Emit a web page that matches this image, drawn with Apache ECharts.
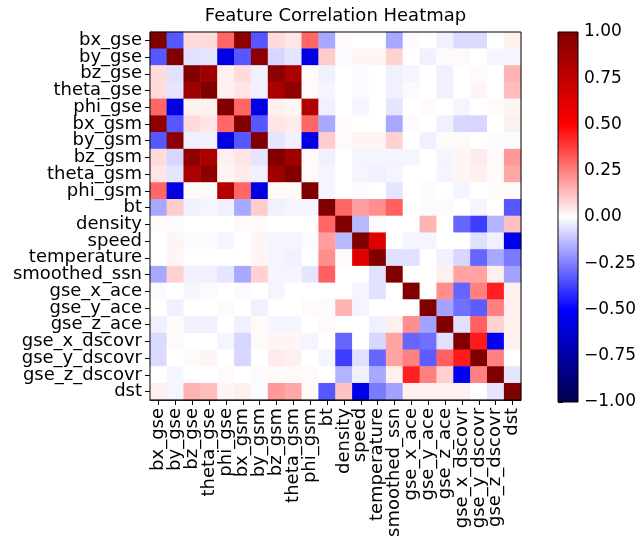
<!DOCTYPE html>
<html>
<head>
<meta charset="utf-8">
<script src="https://cdn.jsdelivr.net/npm/echarts@6/dist/echarts.min.js"></script>
<style>
html,body{margin:0;padding:0;background:#fff;}
#chart{width:643px;height:540px;}
</style>
</head>
<body>
<div id="chart"></div>
<script>
var features = ['bx_gse','by_gse','bz_gse','theta_gse','phi_gse','bx_gsm','by_gsm','bz_gsm','theta_gsm','phi_gsm','bt','density','speed','temperature','smoothed_ssn','gse_x_ace','gse_y_ace','gse_z_ace','gse_x_dscovr','gse_y_dscovr','gse_z_dscovr','dst'];

var corr = [
 [ 1.00,-0.33, 0.07, 0.07, 0.30, 0.95,-0.33, 0.07, 0.05, 0.30,-0.17, 0.01, 0.00, 0.00,-0.17,-0.01, 0.00,-0.03,-0.07,-0.07, 0.00, 0.03],
 [-0.33, 1.00,-0.06,-0.05,-0.58,-0.33, 0.95,-0.08,-0.05,-0.58, 0.10,-0.01, 0.02, 0.02, 0.09, 0.00,-0.03, 0.01, 0.01, 0.00,-0.02,-0.02],
 [ 0.07,-0.06, 1.00, 0.88, 0.03, 0.07,-0.03, 0.95, 0.83, 0.01,-0.03, 0.00,-0.01, 0.00,-0.03,-0.02, 0.00,-0.03, 0.00, 0.01, 0.00, 0.15],
 [ 0.07,-0.05, 0.88, 1.00, 0.03, 0.05,-0.03, 0.83, 0.95, 0.01,-0.02, 0.00,-0.01, 0.00,-0.03,-0.01, 0.00,-0.03, 0.00, 0.02, 0.00, 0.13],
 [ 0.30,-0.58, 0.03, 0.03, 1.00, 0.30,-0.58, 0.03, 0.02, 0.80,-0.03, 0.00,-0.02, 0.00,-0.05, 0.00, 0.01, 0.00,-0.02, 0.00, 0.01, 0.02],
 [ 0.95,-0.33, 0.07, 0.05, 0.30, 1.00,-0.33, 0.05, 0.04, 0.30,-0.17, 0.01, 0.00, 0.00,-0.17,-0.01, 0.00,-0.03,-0.08,-0.08, 0.00, 0.03],
 [-0.33, 0.95,-0.03,-0.03,-0.58,-0.33, 1.00,-0.05,-0.03,-0.58, 0.10, 0.01, 0.02, 0.02, 0.09, 0.00,-0.03, 0.01, 0.01, 0.00,-0.01,-0.01],
 [ 0.07,-0.08, 0.95, 0.83, 0.03, 0.05,-0.05, 1.00, 0.88, 0.01,-0.03, 0.00,-0.02,-0.02,-0.02,-0.02, 0.00,-0.02, 0.02, 0.04, 0.01, 0.20],
 [ 0.05,-0.05, 0.83, 0.95, 0.02, 0.04,-0.03, 0.88, 1.00, 0.01,-0.02, 0.00,-0.02,-0.03,-0.02, 0.00, 0.00,-0.02, 0.02, 0.03, 0.01, 0.17],
 [ 0.30,-0.58, 0.01, 0.01, 0.80, 0.30,-0.58, 0.01, 0.01, 1.00,-0.02, 0.00,-0.01, 0.00,-0.05, 0.00, 0.01, 0.00,-0.02, 0.00, 0.01, 0.01],
 [-0.17, 0.10,-0.03,-0.02,-0.03,-0.17, 0.10,-0.03,-0.02,-0.02, 1.00, 0.30, 0.19, 0.22, 0.31, 0.00,-0.01, 0.01, 0.00,-0.02, 0.00,-0.33],
 [ 0.01,-0.01, 0.00, 0.00, 0.00, 0.01, 0.01, 0.00, 0.00, 0.00, 0.30, 1.00,-0.14, 0.01, 0.00, 0.00, 0.15, 0.00,-0.30,-0.38,-0.15, 0.12],
 [ 0.00, 0.02,-0.01,-0.01,-0.02, 0.00, 0.02,-0.02,-0.02,-0.01, 0.19,-0.14, 1.00, 0.62, 0.00,-0.02,-0.02, 0.00, 0.00,-0.06,-0.03,-0.56],
 [ 0.00, 0.02, 0.00, 0.00, 0.00, 0.00, 0.02,-0.02,-0.03, 0.00, 0.22, 0.01, 0.62, 1.00,-0.06,-0.06, 0.00,-0.03,-0.08,-0.30,-0.17,-0.26],
 [-0.17, 0.09,-0.03,-0.03,-0.05,-0.17, 0.09,-0.02,-0.02,-0.05, 0.31, 0.00, 0.00,-0.06, 1.00, 0.00, 0.00, 0.03, 0.18, 0.18, 0.03,-0.18],
 [-0.01, 0.00,-0.02,-0.01, 0.00,-0.01, 0.00,-0.02, 0.00, 0.00, 0.00, 0.00,-0.02,-0.06, 0.00, 1.00, 0.00, 0.22,-0.30, 0.25, 0.44, 0.03],
 [ 0.00,-0.03, 0.00, 0.00, 0.01, 0.00,-0.03, 0.00, 0.00, 0.01,-0.01, 0.15,-0.02, 0.00, 0.00, 0.00, 1.00,-0.18,-0.28,-0.32, 0.25, 0.03],
 [-0.03, 0.01,-0.03,-0.03, 0.00,-0.03, 0.01,-0.02,-0.02, 0.00, 0.01, 0.00, 0.00,-0.03, 0.03, 0.22,-0.18, 1.00,-0.06, 0.31, 0.09, 0.03],
 [-0.07, 0.01, 0.00, 0.00,-0.02,-0.08, 0.01, 0.02, 0.02,-0.02, 0.00,-0.30, 0.00,-0.08, 0.18,-0.30,-0.28,-0.06, 1.00, 0.45,-0.53, 0.03],
 [-0.07, 0.00, 0.01, 0.02, 0.00,-0.08, 0.00, 0.04, 0.03, 0.00,-0.02,-0.38,-0.06,-0.30, 0.18, 0.25,-0.32, 0.31, 0.45, 1.00, 0.25, 0.00],
 [ 0.00,-0.02, 0.00, 0.00, 0.01, 0.00,-0.01, 0.01, 0.01, 0.01, 0.00,-0.15,-0.03,-0.17, 0.03, 0.44, 0.25, 0.09,-0.53, 0.25, 1.00,-0.05],
 [ 0.03,-0.02, 0.15, 0.13, 0.02, 0.03,-0.01, 0.20, 0.17, 0.01,-0.33, 0.12,-0.56,-0.26,-0.18, 0.03, 0.03, 0.03, 0.03, 0.00,-0.05, 1.00]
];

var colorbarTicks = [-1.00,-0.75,-0.50,-0.25,0.00,0.25,0.50,0.75,1.00];
var seismic = ['#00004d','#0000ff','#ffffff','#ff0000','#800000'];

var cells = [];
for (var r = 0; r < corr.length; r++) {
  for (var c = 0; c < corr[r].length; c++) {
    cells.push([c, r, corr[r][c]]);
  }
}

var FONT = 'DejaVu Sans';
var chart = echarts.init(document.getElementById('chart'), null, {renderer:'canvas'});
var G = {left:150, top:32, width:371, height:370};
var CB = {left:558, top:32, width:20, height:370};

chart.setOption({
  animation:false,
  backgroundColor:'#ffffff',
  grid:[
    {left:G.left, top:G.top, width:G.width, height:G.height, show:true, borderColor:'#000', borderWidth:1, backgroundColor:'transparent', z:5},
    {left:CB.left, top:CB.top, width:CB.width, height:CB.height, show:false}
  ],
  xAxis:[
    {type:'category', gridIndex:0, data:features, position:'bottom',
     axisLine:{show:true, lineStyle:{color:'#000', width:1}},
     axisTick:{show:true, alignWithLabel:true, length:5, lineStyle:{color:'#000'}},
     axisLabel:{interval:0, rotate:90, fontSize:18, fontFamily:FONT, color:'#000', margin:8},
     splitLine:{show:false}},
    {type:'value', gridIndex:1, show:false, min:0, max:1}
  ],
  yAxis:[
    {type:'category', gridIndex:0, data:features, inverse:true,
     axisLine:{show:true, lineStyle:{color:'#000', width:1}},
     axisTick:{show:true, alignWithLabel:true, length:5, lineStyle:{color:'#000'}},
     axisLabel:{interval:0, fontSize:18, fontFamily:FONT, color:'#000', margin:8},
     splitLine:{show:false}},
    {type:'value', gridIndex:1, position:'right', min:colorbarTicks[0], max:colorbarTicks[colorbarTicks.length-1], interval:0.25,
     axisLine:{show:false},
     axisTick:{show:true, length:5, lineStyle:{color:'#000'}},
     axisLabel:{fontSize:17, fontFamily:FONT, color:'#000', margin:6,
       formatter:function(v){ var s = Math.abs(v).toFixed(2); return v < -1e-9 ? '\u2212' + s : s; }},
     splitLine:{show:false}}
  ],
  visualMap:{show:false, type:'continuous', min:-1, max:1, seriesIndex:0, inRange:{color:seismic}},
  graphic:[
    {type:'text', x:G.left + G.width/2, y:7, style:{text:'Feature Correlation Heatmap', fontSize:18, fontFamily:FONT, fill:'#000', textAlign:'center', textVerticalAlign:'top'}},
    {type:'rect', shape:{x:CB.left, y:CB.top, width:CB.width, height:CB.height}, z:1,
     style:{fill:new echarts.graphic.LinearGradient(0,0,0,1,[
       {offset:0, color:seismic[4]},{offset:0.25, color:seismic[3]},{offset:0.5, color:seismic[2]},{offset:0.75, color:seismic[1]},{offset:1, color:seismic[0]}
     ]), stroke:'#000', lineWidth:1}}
  ],
  series:[
    {type:'heatmap', xAxisIndex:0, yAxisIndex:0, data:cells, itemStyle:{borderWidth:0}, emphasis:{disabled:true}, progressive:0}
  ]
});
</script>
</body>
</html>
